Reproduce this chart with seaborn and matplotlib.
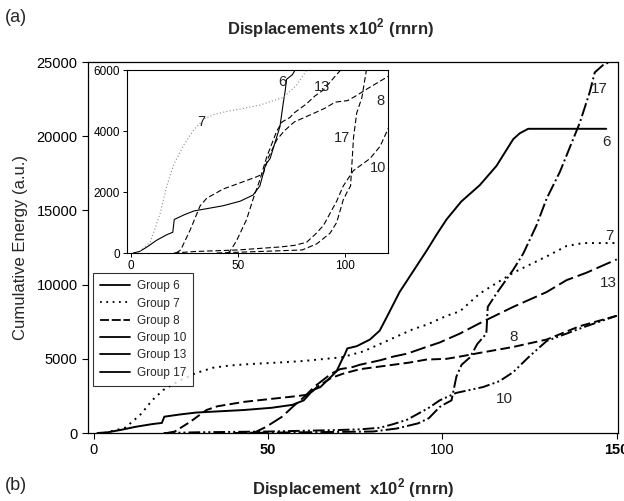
import pandas as pd
import seaborn as sns
import matplotlib
matplotlib.use('Agg')
import matplotlib.pyplot as plt
from matplotlib import font_manager
from matplotlib.lines import Line2D

groups = ["6", "7", "8", "10", "13", "17"]

disp_6 = [1, 4, 7.5, 12, 16.7, 19.5, 20.2, 24.7, 29.4, 35, 43, 51, 57, 60.2, 62.9, 65, 69.6,
          71.1, 72, 72.7, 75.4, 79.2, 82, 84, 87.7, 91.6, 95.5, 98.4, 101.2, 105.4, 110.7,
          115.5, 120.3, 122.2, 124.6, 147]
energy_6 = [0, 50, 200, 420, 600, 680, 1100, 1250, 1380, 1450, 1550, 1700, 1900, 2200, 2900,
            3100, 4150, 4900, 5300, 5700, 5850, 6300, 6900, 7800, 9500, 10900, 12300, 13400,
            14400, 15600, 16700, 18000, 19800, 20200, 20500, 20500]

disp_7 = [3, 8.9, 11.2, 13.6, 16.7, 19.9, 24.7, 29.4, 34.2, 39, 45, 53, 60, 66.5, 71.1, 77.3,
          82.1, 85.9, 91.6, 95.5, 101.2, 105, 110.7, 120.3, 129.9, 135.6, 140.3, 150]
energy_7 = [0, 350, 800, 1300, 2200, 2900, 3550, 4050, 4400, 4550, 4650, 4750, 4850, 5000,
            5100, 5500, 6000, 6400, 7000, 7300, 7900, 8200, 9400, 10800, 11900, 12600, 12800,
            12800]

disp_8 = [21, 23.2, 27.6, 32.3, 35.4, 43.1, 50.9, 58.7, 61.8, 64, 68, 71.5, 76.3, 81.1, 85.9,
          90.6, 95.4, 101.2, 105, 110.7, 120.3, 129.9, 139.4, 150]
energy_8 = [0, 100, 750, 1550, 1800, 2100, 2300, 2500, 2600, 3100, 3700, 4000, 4300, 4450,
            4600, 4750, 4950, 5000, 5150, 5400, 5800, 6300, 7200, 7900]

disp_10 = [20, 30, 50, 70, 76.3, 82, 85.9, 89.9, 93.0, 96.1, 99.2, 103.9, 111.7, 116.4, 120.3,
           125.1, 129.9, 135.6, 141.3, 150]
energy_10 = [0, 50, 100, 200, 250, 350, 600, 900, 1300, 1700, 2200, 2700, 3100, 3500, 4100,
             5200, 6200, 6700, 7200, 7900]

disp_13 = [45, 46.2, 49.3, 54, 57.2, 60.2, 63.4, 68.1, 70.6, 74.3, 76.3, 82.1, 85.9, 89.9,
           95.4, 99.2, 105, 110.7, 120.3, 129.9, 135.6, 141.3, 150]
energy_13 = [0, 50, 400, 1100, 1800, 2400, 3150, 4000, 4300, 4450, 4600, 4900, 5150, 5350,
             5800, 6100, 6700, 7400, 8500, 9500, 10300, 10800, 11700]

disp_17 = [40, 60, 80, 86.8, 93.0, 96.1, 99.2, 101, 102.6, 104, 105.5, 107.9, 110, 112.6, 113,
           115.5, 120.3, 123.2, 127, 129.9, 133.7, 137.5, 139.4, 142.3, 143.7, 146.1, 148]
energy_17 = [0, 50, 100, 300, 650, 1000, 1750, 2000, 2200, 3800, 4600, 5100, 6000, 6700, 8500,
             9400, 11000, 12100, 14000, 15800, 17600, 19800, 20900, 23000, 24300, 24800, 25000]

disps = [disp_6, disp_7, disp_8, disp_10, disp_13, disp_17]
energies = [energy_6, energy_7, energy_8, energy_10, energy_13, energy_17]

rows = []
for g, xs, ys in zip(groups, disps, energies):
    for x, y in zip(xs, ys):
        rows.append({"group": g, "disp": x, "energy": y})
df = pd.DataFrame(rows)

dash_map = {"6": "", "7": (1, 2.5), "8": (5, 2.2), "10": (6, 1.6, 1, 1.6, 1, 1.6),
            "13": (8, 2.5), "17": (7, 1.6, 1, 1.6)}

sns.set_style("ticks")
names = {f.name for f in font_manager.fontManager.ttflist}
narrow = "Liberation Sans Narrow" if "Liberation Sans Narrow" in names else "Liberation Sans"
plt.rcParams['font.family'] = ['Liberation Sans', 'DejaVu Sans']
plt.rcParams['mathtext.fontset'] = 'custom'
plt.rcParams['mathtext.rm'] = narrow
plt.rcParams['mathtext.bf'] = narrow + ':bold'

fig = plt.figure(figsize=(6.24, 5.01), dpi=100)
ax = fig.add_axes([0.141, 0.1357, 0.849, 0.7405])
axin = fig.add_axes([0.2035, 0.495, 0.4183, 0.365])

# main plot
sns.lineplot(data=df, x="disp", y="energy", style="group", dashes=dash_map, color="black",
             linewidth=1.4, estimator=None, sort=False, legend=False, ax=ax)
ax.set_xlim(-1.7, 150.3)
ax.set_ylim(0, 25000)
ax.set_xticks([0, 50, 100, 150])
ax.set_yticks([0, 5000, 10000, 15000, 20000, 25000])
ax.tick_params(axis="both", direction="out", length=4, width=0.8, labelsize=10.5, colors="black")
for lbl in ax.get_xticklabels():
    if lbl.get_text() in ("50", "150"):
        lbl.set_fontweight("bold")
for s in ax.spines.values():
    s.set_visible(True)
    s.set_color("black")
    s.set_linewidth(0.9)
ax.set_xlabel(r"Displacement  x10$^{\mathbf{2}}$ (rnrn)", fontsize=12, fontweight="bold",
              family=narrow, labelpad=14)
ax.set_ylabel("Cumulative Energy (a.u.)", fontsize=12, labelpad=6)

main_labels = [("6", 147, 19600), ("17", 145.1, 23200), ("7", 148, 13300),
               ("13", 147.5, 10100), ("8", 120.3, 6500), ("10", 117.9, 2300)]
for t, x, y in main_labels:
    ax.text(x, y, t, fontsize=11, ha="center", va="center")

handles = [
    Line2D([], [], color="black", lw=1.3),
    Line2D([], [], color="black", lw=1.3, ls=(0, (1, 2.5))),
    Line2D([], [], color="black", lw=1.3, ls=(0, (5, 1.5))),
    Line2D([], [], color="black", lw=1.3),
    Line2D([], [], color="black", lw=1.3),
    Line2D([], [], color="black", lw=1.3),
]
leg = ax.legend(handles, ["Group " + g for g in groups], loc="upper left",
                bbox_to_anchor=(0.0094, 0.431), borderaxespad=0, fontsize=8.5,
                frameon=True, fancybox=False, edgecolor="black", handlelength=2.5,
                labelspacing=0.45, borderpad=0.6, handletextpad=0.6)
leg.get_frame().set_linewidth(0.8)

# inset plot
inset_pal = {"6": "black", "7": "0.55", "8": "black", "10": "black", "13": "black", "17": "black"}
inset_dash = {"6": "", "7": (1, 2), "8": (5, 2.5), "10": (5, 2.5), "13": (5, 2.5), "17": (5, 2.5)}
sns.lineplot(data=df, x="disp", y="energy", hue="group", style="group", palette=inset_pal,
             dashes=inset_dash, linewidth=0.8, estimator=None, sort=False, legend=False, ax=axin)
axin.set_xlim(-1.9, 120.1)
axin.set_ylim(0, 6000)
axin.set_xticks([0, 50, 100])
axin.set_yticks([0, 2000, 4000, 6000])
axin.tick_params(axis="both", direction="out", length=3, width=0.7, labelsize=8.5, colors="black", pad=2)
axin.set_xlabel("")
axin.set_ylabel("")
for s in axin.spines.values():
    s.set_visible(True)
    s.set_color("black")
    s.set_linewidth(0.8)

inset_labels = [("7", 33.0, 4300), ("6", 70.9, 5600), ("13", 89.1, 5450), ("8", 116.4, 5000),
                ("17", 98.4, 3760), ("10", 115.6, 2780)]
for t, x, y in inset_labels:
    axin.text(x, y, t, fontsize=10.5, ha="center", va="center")

fig.text(0.53, 0.944, r"Displacements x10$^{\mathbf{2}}$ (rnrn)", fontsize=12, fontweight="bold",
         family=narrow, ha="center", va="center")
fig.text(0.008, 0.966, "(a)", fontsize=13, ha="left", va="center")
fig.text(0.008, 0.03, "(b)", fontsize=13, ha="left", va="center")

fig.savefig("out.png", dpi=100)
